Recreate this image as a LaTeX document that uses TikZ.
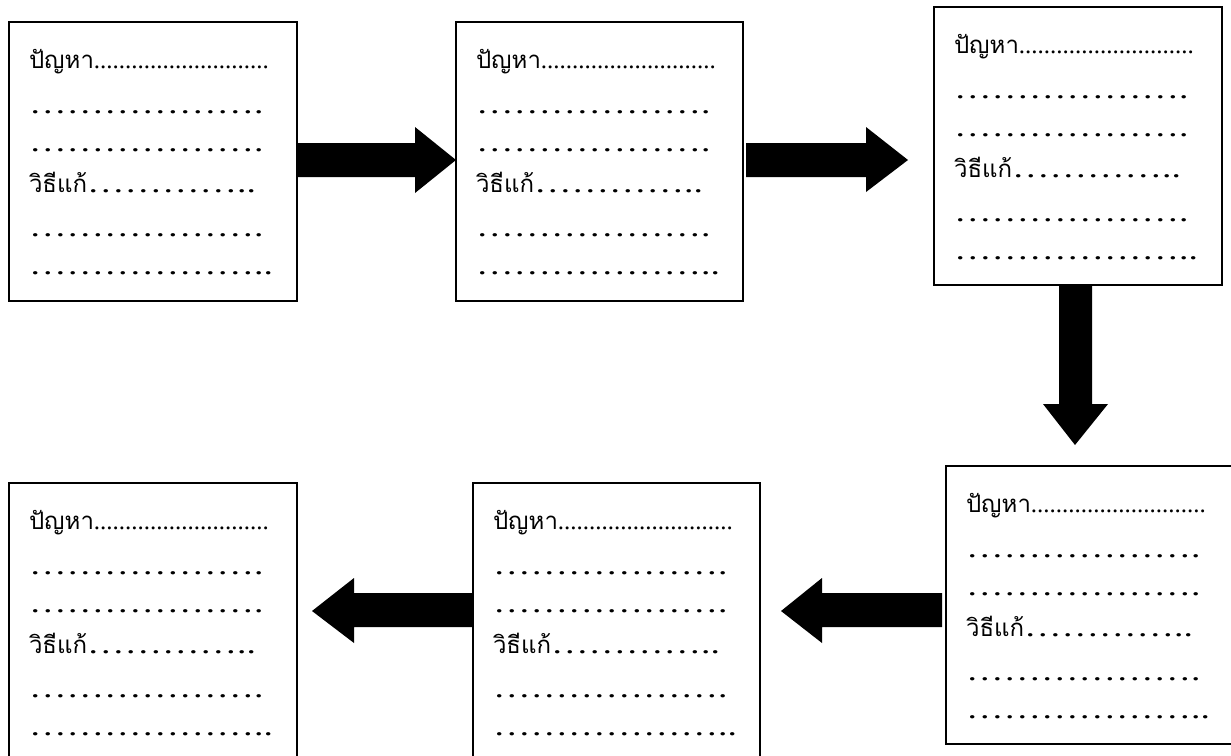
\documentclass[tikz,border=0pt]{standalone}
\usepackage{fontspec}
\setmainfont{Liberation Serif}
\newfontfamily\thaifont[Script=Thai]{Loma}
\newfontfamily\dotfont{Liberation Serif}
\newfontfamily\widedotfont[FakeStretch=1.34]{Liberation Serif}
\usetikzlibrary{calc}
\tikzset{
  probbox/.style={draw, line width=1.6pt, inner sep=0pt, outer sep=0pt, anchor=north west},
  txtline/.style={anchor=base west, inner sep=0pt, outer sep=0pt},
  blockarrow/.style={fill=black, draw=none}
}
\newcommand\el{…}
\newcommand\thaiword[1]{{\thaifont\fontsize{24}{28}\selectfont #1}}
\newcommand\smalldots[1]{{\dotfont\fontsize{25}{30}\selectfont #1}}
\newcommand\bigdots[1]{{\widedotfont\fontsize{28}{32}\selectfont #1}}
\newcommand\fillbox[1]{%
  \node[txtline] (#1l1) at ($(#1.north west)+(20,46)$) {\thaiword{ปัญหา}\smalldots{............................}};
  \node[txtline] (#1l2) at ($(#1.north west)+(20,91)$) {\bigdots{\el\el\el\el\el\el.}};
  \node[txtline] (#1l3) at ($(#1.north west)+(20,129)$) {\bigdots{\el\el\el\el\el\el.}};
  \node[txtline] (#1l4) at ($(#1.north west)+(20,170)$) {\thaiword{วิธีแก้}\bigdots{\el\el\el\el..}};
  \node[txtline] (#1l5) at ($(#1.north west)+(20,214)$) {\bigdots{\el\el\el\el\el\el.}};
  \node[txtline] (#1l6) at ($(#1.north west)+(20,252)$) {\bigdots{\el\el\el\el\el\el..}};
}
\begin{document}
\begin{tikzpicture}[x=1pt, y=-1pt]
\clip (0,0) rectangle (1231,755);
\fill[white] (0,0) rectangle (1231,755);
% boxes
\node[probbox, minimum width=288pt, minimum height=279pt] (b1) at (9,22) {};
\node[probbox, minimum width=287pt, minimum height=279pt] (b2) at (456,22) {};
\node[probbox, minimum width=288pt, minimum height=278pt] (b3) at (934,7) {};
\node[probbox, minimum width=300pt, minimum height=278pt] (b4) at (946,466) {};
\node[probbox, minimum width=287pt, minimum height=290pt] (b5) at (473,483) {};
\node[probbox, minimum width=288pt, minimum height=290pt] (b6) at (9,483) {};
\fillbox{b1}
\fillbox{b2}
\fillbox{b3}
\fillbox{b4}
\fillbox{b5}
\fillbox{b6}
% block arrows
\fill[blockarrow] (b1.east |- 0,143) -- (415,143) -- (415,127) -- (b2.west |- 0,160) -- (415,193) -- (415,177) -- (b1.east |- 0,177) -- cycle;
\fill[blockarrow] (746,143) -- (866,143) -- (866,127) -- (908,160) -- (866,192) -- (866,177) -- (746,177) -- cycle;
\fill[blockarrow] (1059,0 |- b3.south) -- (1059,404) -- (1043,404) -- (1075,445) -- (1108,404) -- (1092,404) -- (1092,0 |- b3.south) -- cycle;
\fill[blockarrow] (b5.west |- 0,593) -- (354,593) -- (354,578) -- (312,611) -- (354,643) -- (354,627) -- (b5.west |- 0,627) -- cycle;
\fill[blockarrow] (942,593) -- (822,593) -- (822,578) -- (781,611) -- (822,643) -- (822,627) -- (942,627) -- cycle;
\end{tikzpicture}
\end{document}
